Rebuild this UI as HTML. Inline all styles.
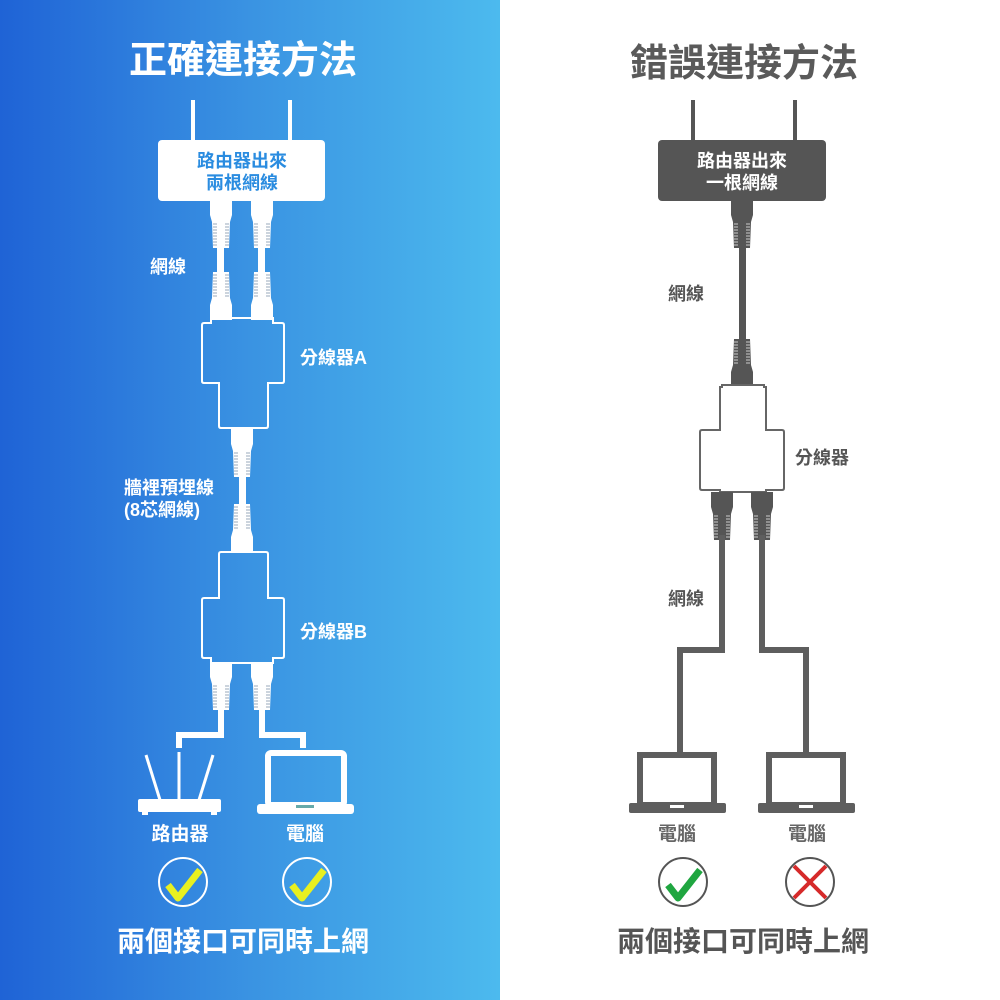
<!DOCTYPE html>
<html><head><meta charset="utf-8"><style>
html,body{margin:0;padding:0;width:1000px;height:1000px;overflow:hidden;background:#fff}
svg{display:block}
text{font-family:"Liberation Sans","Noto Sans CJK TC",sans-serif;font-weight:bold}
</style></head><body>
<svg width="1000" height="1000" viewBox="0 0 1000 1000" xmlns="http://www.w3.org/2000/svg">
<defs>
<linearGradient id="bg" x1="0" x2="1" y1="0" y2="0">
<stop offset="0" stop-color="#1f63d6"/><stop offset="0.5" stop-color="#3a93e2"/><stop offset="1" stop-color="#4cbaee"/>
</linearGradient>
<g id="pw">
<polygon points="-11,0 11,0 11,15 9,22 8,48 -8,48 -9,22 -11,15" fill="#fff"/>
<g stroke="#9ab" stroke-width="1">
<line x1="-8" x2="-4" y1="24" y2="24"/><line x1="-8" x2="-4" y1="27" y2="27"/><line x1="-8" x2="-4" y1="30" y2="30"/><line x1="-8" x2="-4" y1="33" y2="33"/><line x1="-8" x2="-4" y1="36" y2="36"/><line x1="-8" x2="-4" y1="39" y2="39"/><line x1="-8" x2="-4" y1="42" y2="42"/><line x1="-8" x2="-4" y1="45" y2="45"/>
<line x1="4" x2="8" y1="24" y2="24"/><line x1="4" x2="8" y1="27" y2="27"/><line x1="4" x2="8" y1="30" y2="30"/><line x1="4" x2="8" y1="33" y2="33"/><line x1="4" x2="8" y1="36" y2="36"/><line x1="4" x2="8" y1="39" y2="39"/><line x1="4" x2="8" y1="42" y2="42"/><line x1="4" x2="8" y1="45" y2="45"/>
</g></g>
<g id="pg">
<polygon points="-11,0 11,0 11,15 9,22 8,48 -8,48 -9,22 -11,15" fill="#555"/>
<g stroke="#ccc" stroke-width="1">
<line x1="-8" x2="-4" y1="24" y2="24"/><line x1="-8" x2="-4" y1="27" y2="27"/><line x1="-8" x2="-4" y1="30" y2="30"/><line x1="-8" x2="-4" y1="33" y2="33"/><line x1="-8" x2="-4" y1="36" y2="36"/><line x1="-8" x2="-4" y1="39" y2="39"/><line x1="-8" x2="-4" y1="42" y2="42"/><line x1="-8" x2="-4" y1="45" y2="45"/>
<line x1="4" x2="8" y1="24" y2="24"/><line x1="4" x2="8" y1="27" y2="27"/><line x1="4" x2="8" y1="30" y2="30"/><line x1="4" x2="8" y1="33" y2="33"/><line x1="4" x2="8" y1="36" y2="36"/><line x1="4" x2="8" y1="39" y2="39"/><line x1="4" x2="8" y1="42" y2="42"/><line x1="4" x2="8" y1="45" y2="45"/>
</g></g>
</defs>
<rect x="0" y="0" width="500" height="1000" fill="url(#bg)"/>

<!-- LEFT -->
<text x="243" y="73" font-size="38" fill="#fff" text-anchor="middle">正確連接方法</text>
<rect x="191" y="100" width="4" height="42" fill="#fff"/>
<rect x="288" y="100" width="4" height="42" fill="#fff"/>
<rect x="158" y="140" width="167" height="61" rx="4" fill="#fff"/>
<text x="242" y="167" font-size="18" fill="#2a8ce0" text-anchor="middle">路由器出來</text>
<text x="242" y="189" font-size="18" fill="#2a8ce0" text-anchor="middle">兩根網線</text>
<rect x="217" y="245" width="7" height="32" fill="#fff"/>
<rect x="258" y="245" width="7" height="32" fill="#fff"/>
<use href="#pw" x="221" y="200"/><use href="#pw" x="262" y="200"/>
<use href="#pw" transform="translate(221,320) scale(1,-1)"/><use href="#pw" transform="translate(262,320) scale(1,-1)"/>
<text x="150" y="273" font-size="18" fill="#fff">網線</text>
<path d="M211,323 V318 H273 V323 H282 Q284,323 284,325 V381 Q284,383 282,383 H268 V426 Q268,428 266,428 H221 Q219,428 219,426 V383 H204 Q202,383 202,381 V325 Q202,323 204,323 Z" fill="none" stroke="#fff" stroke-width="2"/>
<text x="300" y="364" font-size="18" fill="#fff">分線器A</text>
<rect x="239" y="475" width="7" height="35" fill="#fff"/>
<use href="#pw" x="242" y="429"/>
<use href="#pw" transform="translate(242,552) scale(1,-1)"/>
<text x="124" y="494" font-size="18" fill="#fff">牆裡預埋線</text>
<text x="124" y="516" font-size="18" fill="#fff">(8芯網線)</text>
<path d="M221,552 H266 Q268,552 268,554 V598 H282 Q284,598 284,600 V656 Q284,658 282,658 H273 V663 H211 V658 H204 Q202,658 202,656 V600 Q202,598 204,598 H219 V554 Q219,552 221,552 Z" fill="none" stroke="#fff" stroke-width="2"/>
<text x="300" y="638" font-size="18" fill="#fff">分線器B</text>
<use href="#pw" x="221" y="662"/><use href="#pw" x="262" y="662"/>
<path d="M221,705 V735 H179 V748" fill="none" stroke="#fff" stroke-width="6"/>
<path d="M262,705 V735 H303 V748" fill="none" stroke="#fff" stroke-width="6"/>
<g stroke="#fff" stroke-width="3"><line x1="146" y1="755" x2="160" y2="800"/><line x1="179" y1="752" x2="179" y2="800"/><line x1="213" y1="755" x2="199" y2="800"/></g>
<rect x="138" y="799" width="83" height="13" rx="2" fill="#fff"/>
<rect x="142" y="811" width="6" height="4" fill="#fff"/><rect x="211" y="811" width="6" height="4" fill="#fff"/>
<rect x="268" y="753" width="76" height="52" rx="3" fill="none" stroke="#fff" stroke-width="6"/>
<rect x="257" y="804" width="97" height="10" rx="3" fill="#fff"/>
<rect x="296" y="805" width="18" height="3" fill="#6aa"/>
<text x="180" y="840" font-size="19" fill="#fff" text-anchor="middle">路由器</text>
<text x="305" y="840" font-size="19" fill="#fff" text-anchor="middle">電腦</text>
<circle cx="183" cy="882" r="24" fill="none" stroke="#fff" stroke-width="2"/>
<circle cx="307" cy="882" r="24" fill="none" stroke="#fff" stroke-width="2"/>
<path d="M168,885 L178,898 L200,870" fill="none" stroke="#e8f020" stroke-width="7" stroke-linejoin="round"/>
<path d="M292,885 L302,898 L324,870" fill="none" stroke="#e8f020" stroke-width="7" stroke-linejoin="round"/>
<text x="243" y="951" font-size="28" fill="#fff" text-anchor="middle">兩個接口可同時上網</text>

<!-- RIGHT -->
<text x="744" y="76" font-size="38" fill="#5a5a5a" text-anchor="middle">錯誤連接方法</text>
<rect x="691" y="100" width="4" height="42" fill="#555"/>
<rect x="793" y="100" width="4" height="42" fill="#555"/>
<rect x="658" y="140" width="168" height="61" rx="4" fill="#555"/>
<text x="742" y="167" font-size="18" fill="#fff" text-anchor="middle">路由器出來</text>
<text x="742" y="189" font-size="18" fill="#fff" text-anchor="middle">一根網線</text>
<rect x="739" y="245" width="7" height="100" fill="#555"/>
<use href="#pg" x="742" y="200"/>
<use href="#pg" transform="translate(742,387) scale(1,-1)"/>
<text x="668" y="300" font-size="18" fill="#555">網線</text>
<path d="M722,387 V385 H764 V387 H766 V430 H782 Q784,430 784,432 V488 Q784,490 782,490 H766 V492 H720 V490 H702 Q700,490 700,488 V432 Q700,430 702,430 H720 V387 Z" fill="#fff" stroke="#666" stroke-width="2"/>
<text x="795" y="464" font-size="18" fill="#555">分線器</text>
<use href="#pg" x="722" y="492"/><use href="#pg" x="762" y="492"/>
<path d="M722,535 V650 H680 V755" fill="none" stroke="#5e5e5e" stroke-width="6"/>
<path d="M762,535 V650 H806 V755" fill="none" stroke="#5e5e5e" stroke-width="6"/>
<text x="668" y="605" font-size="18" fill="#555">網線</text>
<rect x="640" y="755" width="74" height="50" fill="#fff" stroke="#5e5e5e" stroke-width="6"/>
<rect x="629" y="803" width="97" height="10" rx="2" fill="#5e5e5e"/>
<rect x="670" y="805" width="14" height="3" fill="#fff"/>
<rect x="769" y="755" width="74" height="50" fill="#fff" stroke="#5e5e5e" stroke-width="6"/>
<rect x="758" y="803" width="97" height="10" rx="2" fill="#5e5e5e"/>
<rect x="799" y="805" width="14" height="3" fill="#fff"/>
<text x="677" y="840" font-size="19" fill="#666" text-anchor="middle">電腦</text>
<text x="807" y="840" font-size="19" fill="#666" text-anchor="middle">電腦</text>
<circle cx="683" cy="882" r="24" fill="none" stroke="#555" stroke-width="2"/>
<circle cx="810" cy="882" r="24" fill="none" stroke="#555" stroke-width="2"/>
<path d="M668,885 L678,898 L700,870" fill="none" stroke="#1fa640" stroke-width="7" stroke-linejoin="round"/>
<path d="M794,866 L826,898 M826,866 L794,898" stroke="#d62a2a" stroke-width="4"/>
<text x="743" y="951" font-size="28" fill="#555" text-anchor="middle">兩個接口可同時上網</text>
</svg>
</body></html>
